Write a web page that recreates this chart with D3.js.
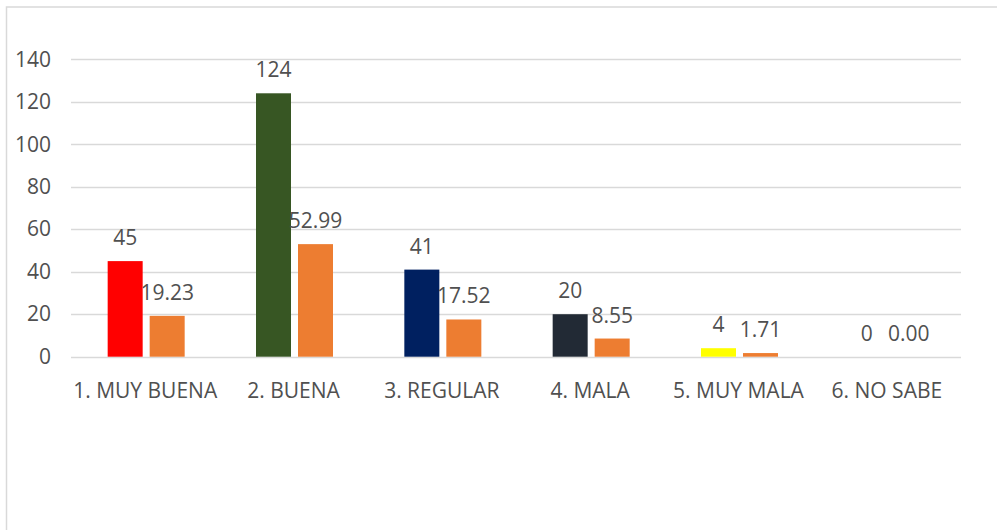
<!DOCTYPE html>
<html>
<head>
<meta charset="utf-8">
<script src="https://cdn.jsdelivr.net/npm/d3@7"></script>
<style>
  html, body { margin: 0; padding: 0; background: #fff; }
  svg { display: block; }
  text { font-family: "Open Sans", "Liberation Sans", sans-serif; fill: #505050; }
</style>
</head>
<body>
<svg id="chart" width="997" height="530"></svg>
<script>
const categories = ["1. MUY BUENA", "2. BUENA", "3. REGULAR", "4. MALA", "5. MUY MALA", "6. NO SABE"];
const counts = [45, 124, 41, 20, 4, 0];
const percents = [19.23, 52.99, 17.52, 8.55, 1.71, 0.00];
const countColors = ["#FF0000", "#375623", "#002060", "#222A35", "#FFFF00", "#7F7F7F"];
const percentColor = "#ED7D31";
const yTicks = [0, 20, 40, 60, 80, 100, 120, 140];

const FS = "21px";
const svg = d3.select("#chart");
const W = 997, H = 530;
const plot = { left: 71, right: 961, top: 59.3, bottom: 356.7 };

// chart frame (only top & left visible, rest cut off)
svg.append("rect")
  .attr("x", 6.5).attr("y", 7).attr("width", W + 20).attr("height", H + 20)
  .attr("fill", "none").attr("stroke", "#D9D9D9").attr("stroke-width", 1.5);

const x = d3.scaleBand().domain(categories).range([plot.left, plot.right]).padding(0);
const y = d3.scaleLinear().domain([0, 140]).range([plot.bottom, plot.top]);

// gridlines
svg.append("g").selectAll("line").data(yTicks).join("line")
  .attr("x1", plot.left).attr("x2", plot.right)
  .attr("y1", d => Math.round(y(d)) + 0.5).attr("y2", d => Math.round(y(d)) + 0.5)
  .attr("stroke", "#D9D9D9").attr("stroke-width", 1.3);

// y axis labels
const yAxis = d3.axisLeft(y).tickValues(yTicks).tickSize(0).tickPadding(0);
const gy = svg.append("g").attr("transform", `translate(51,0)`).call(yAxis);
gy.select(".domain").remove();
gy.selectAll("text").style("font-size", FS).attr("fill", "#505050")
  .style("font-family", "'Open Sans', 'Liberation Sans', sans-serif");

// x axis labels
const xAxis = d3.axisBottom(x).tickSize(0).tickPadding(0);
const gx = svg.append("g").attr("transform", `translate(0,${plot.bottom})`).call(xAxis);
gx.select(".domain").remove();
gx.selectAll("text").style("font-size", FS).attr("fill", "#505050")
  .attr("dy", 0).attr("y", 41)
  .style("font-family", "'Open Sans', 'Liberation Sans', sans-serif");

// bars
const inner = d3.scaleBand().domain(["count", "pct"]).range([-37.5, 39.5]).paddingInner(7 / 42).paddingOuter(0);
const rows = categories.map((c, i) => ({ c, i, count: counts[i], pct: percents[i] }));

const groups = svg.append("g").selectAll("g").data(rows).join("g")
  .attr("transform", d => `translate(${x(d.c) + x.bandwidth() / 2},0)`);

groups.append("rect")
  .attr("x", inner("count")).attr("width", inner.bandwidth())
  .attr("y", d => y(d.count)).attr("height", d => y(0) - y(d.count))
  .attr("fill", d => countColors[d.i]);

groups.append("rect")
  .attr("x", inner("pct")).attr("width", inner.bandwidth())
  .attr("y", d => y(d.pct)).attr("height", d => y(0) - y(d.pct))
  .attr("fill", percentColor);

groups.append("text")
  .attr("x", inner("count") + inner.bandwidth() / 2)
  .attr("y", d => y(d.count) - 16)
  .attr("text-anchor", "middle").style("font-size", FS)
  .text(d => d3.format("d")(d.count));

groups.append("text")
  .attr("x", inner("pct") + inner.bandwidth() / 2)
  .attr("y", d => y(d.pct) - 16)
  .attr("text-anchor", "middle").style("font-size", FS)
  .text(d => d3.format(".2f")(d.pct));
</script>
</body>
</html>
